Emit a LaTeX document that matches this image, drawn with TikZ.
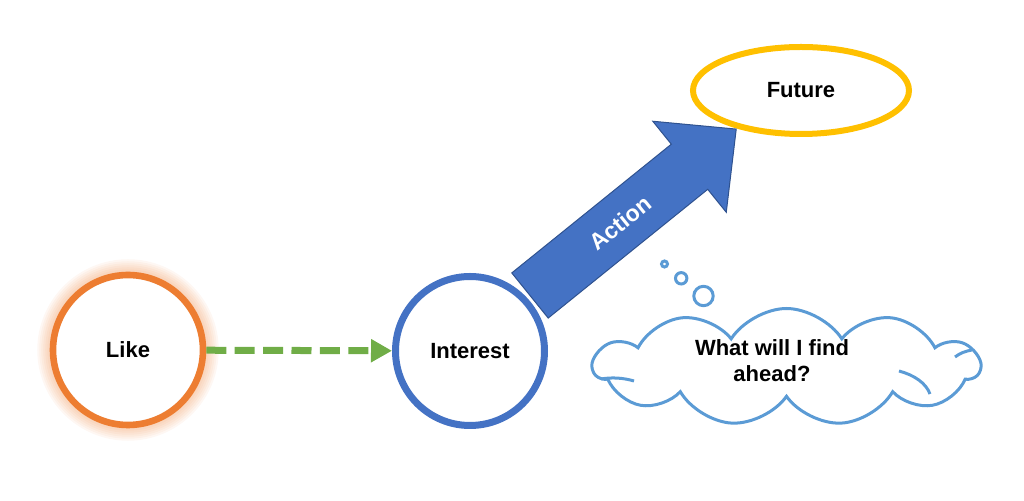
\documentclass[tikz,border=0pt]{standalone}
\usepackage{fontspec}
\setmainfont{Liberation Sans}
\usetikzlibrary{shapes.geometric,shapes.symbols,arrows.meta}

\definecolor{likeorange}{HTML}{ED7D31}
\definecolor{intblue}{HTML}{4472C4}
\definecolor{arrowedge}{HTML}{2F528F}
\definecolor{futgold}{HTML}{FFC000}
\definecolor{likegreen}{HTML}{70AD47}
\definecolor{cloudblue}{HTML}{5B9BD5}

\begin{document}
\begin{tikzpicture}[x=0.5pt, y=-0.5pt,
		lbl/.style={font=\fontsize{11}{13}\selectfont\bfseries},
		ring/.style={circle, draw, fill=white, line width=3.3pt, minimum size=75pt, inner sep=0pt, lbl},
		bubble/.style={circle, draw=cloudblue, line width=1.5pt, inner sep=0pt},
		crease/.style={cloudblue, line width=1.5pt}]

		\useasboundingbox (0,0) rectangle (1024,501);

		% soft glow round Like
		\foreach \w in {2,4,...,16}
			\draw [likeorange, opacity=0.06, line width=\w pt] (128,350) circle (74.75);

		\node [ring, draw=likeorange] (like) at (128,350) {Like};
		\node [ring, draw=intblue, line width=3.5pt, minimum size=74.5pt] (interest) at (470,351) {Interest};
		\node [ellipse, draw=futgold, line width=3pt, fill=white, minimum width=108pt, minimum height=43.5pt, inner sep=0pt, lbl] (future) at (801,90.5) {Future};

		\draw [likegreen, line width=3.5pt, dash pattern=on 10pt off 4.2pt, -{Triangle[length=10.5pt, width=11pt]}] (like) -- (interest);

		% block arrow Interest -> Future
		\begin{scope}[shift={(530,295.5)}, rotate=38.9]
			\draw [arrowedge, fill=intblue, line width=0.5pt, line join=miter]
				(0,-29) -- (205,-29) -- (205,-58.5) -- (265,0) -- (205,58.5) -- (205,29) -- (0,29) -- cycle;
			\node [lbl, font=\fontsize{11.5}{13}\selectfont\bfseries, text=white, rotate=38.9] (action) at (116,0) {Action};
		\end{scope}

		\node [cloud, draw=cloudblue, line width=1.5pt, cloud puffs=11, cloud puff arc=115, cloud ignores aspect, minimum width=193pt, minimum height=58.5pt] (thought) at (786.5,367) {};
		\draw [crease] (601,379) .. controls (612,377) and (624,378) .. (634,381);
		\draw [crease] (899,371) .. controls (914,375) and (926,383) .. (930,394);
		\draw [crease] (955,357) .. controls (960,353) and (966,351) .. (972,350);
		\node [lbl, align=center] (ask) at (772,361) {What will I find\\ahead?};

		\node [bubble, minimum size=3pt] (b1) at (664.5,264) {};
		\node [bubble, minimum size=5.7pt] (b2) at (681.2,278.3) {};
		\node [bubble, minimum size=9.7pt] (b3) at (703.5,296) {};

	\end{tikzpicture}
\end{document}
